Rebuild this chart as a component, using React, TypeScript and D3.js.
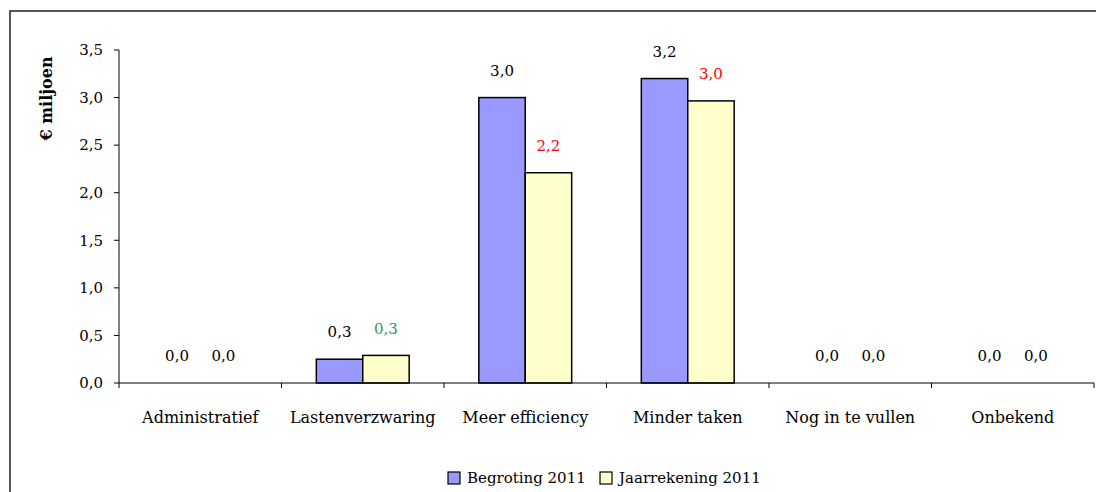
import React from "react";
import * as d3 from "d3";

const categories = ["Administratief", "Lastenverzwaring", "Meer efficiency", "Minder taken", "Nog in te vullen", "Onbekend"];
const begroting = [0, 0.25, 3.0, 3.2, 0, 0];
const jaarrekening = [0, 0.29, 2.21, 2.965, 0, 0];
const begrotingLabels = ["0,0", "0,3", "3,0", "3,2", "0,0", "0,0"];
const jaarrekeningLabels = ["0,0", "0,3", "2,2", "3,0", "0,0", "0,0"];
const jaarrekeningLabelColors = ["#000000", "#339966", "#ff0000", "#ff0000", "#000000", "#000000"];
const yTicks = [0, 0.5, 1.0, 1.5, 2.0, 2.5, 3.0, 3.5];
const seriesNames = ["Begroting 2011", "Jaarrekening 2011"];
const seriesColors = ["#9999ff", "#ffffcc"];

const FONT = "DejaVu Serif";

export default function App() {
  const left = 119, right = 1094, top = 50, bottom = 383;
  const x = d3.scaleBand<string>().domain(categories).range([left, right]).paddingInner(0).paddingOuter(0);
  const y = d3.scaleLinear().domain([0, 3.5]).range([bottom, top]);
  const bw = x.bandwidth() / 3.5;
  const fmt = (v: number) => v.toFixed(1).replace(".", ",");
  const boundaries = categories.map((c) => x(c)!).concat([right]);

  return (
    <svg width={1096} height={492} style={{ position: "absolute", left: 0, top: 0, background: "#fff", fontFamily: FONT }}>
      <rect x={0} y={0} width={1096} height={492} fill="#fff" />
      <rect x={10} y={11} width={1200} height={600} fill="none" stroke="#222" strokeWidth={1.5} />
      {/* y axis */}
      <line x1={left} x2={left} y1={top} y2={bottom} stroke="#000" />
      {yTicks.map((t) => (
        <g key={t}>
          <line x1={left - 5} x2={left} y1={y(t)} y2={y(t)} stroke="#000" />
          <text x={103} y={y(t)} dy="0.35em" textAnchor="end" fontSize={15} fill="#000">{fmt(t)}</text>
        </g>
      ))}
      <text transform={`translate(46,${(55 + 142) / 2}) rotate(-90)`} textAnchor="middle" dy="0.35em"
        fontSize={16} fontWeight="bold" fill="#000">€ miljoen</text>
      {/* bars */}
      {categories.map((c, i) => {
        const cx = x(c)! + x.bandwidth() / 2;
        return (
          <g key={c}>
            <rect x={cx - bw} y={y(begroting[i])} width={bw} height={bottom - y(begroting[i])}
              fill={seriesColors[0]} stroke="#000" strokeWidth={1.5} visibility={begroting[i] > 0 ? "visible" : "hidden"} />
            <rect x={cx} y={y(jaarrekening[i])} width={bw} height={bottom - y(jaarrekening[i])}
              fill={seriesColors[1]} stroke="#000" strokeWidth={1.5} visibility={jaarrekening[i] > 0 ? "visible" : "hidden"} />
            <text x={cx - bw / 2} y={y(begroting[i]) - 27} dy="0.35em" textAnchor="middle" fontSize={15} fill="#000">{begrotingLabels[i]}</text>
            <text x={cx + bw / 2} y={y(jaarrekening[i]) - 27} dy="0.35em" textAnchor="middle" fontSize={15} fill={jaarrekeningLabelColors[i]}>{jaarrekeningLabels[i]}</text>
            <text x={cx} y={417} dy="0.35em" textAnchor="middle" fontSize={16} fill="#000">{c}</text>
          </g>
        );
      })}
      {/* x axis */}
      <line x1={left} x2={right} y1={bottom} y2={bottom} stroke="#000" />
      {boundaries.map((b, i) => (
        <line key={i} x1={b} x2={b} y1={bottom} y2={bottom + 5} stroke="#000" />
      ))}
      {/* legend */}
      <g>
        <rect x={448} y={472} width={12} height={12} fill={seriesColors[0]} stroke="#000" strokeWidth={1.2} />
        <text x={467} y={478} dy="0.35em" fontSize={15} fill="#000">{seriesNames[0]}</text>
        <rect x={600} y={472} width={12} height={12} fill={seriesColors[1]} stroke="#000" strokeWidth={1.2} />
        <text x={619} y={478} dy="0.35em" fontSize={15} fill="#000">{seriesNames[1]}</text>
      </g>
    </svg>
  );
}
